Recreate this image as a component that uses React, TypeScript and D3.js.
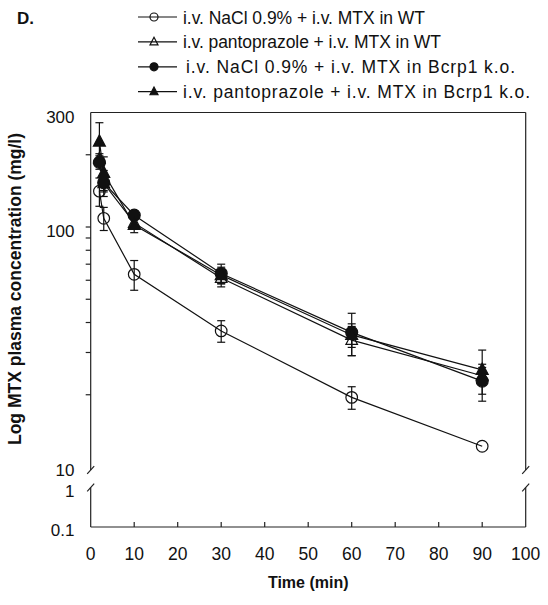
import React from "react";
import * as d3 from "d3";

const times = [2, 3, 10, 30, 60, 90];

const wtNaCl = [141, 108.7, 63.5, 36.9, 19.5, 12.2];
const wtNaClSD = [19, 12, 9, 3.8, 2.1, 0];
const wtPanto = [192, 152, 104, 61.3, 33.8, 24];
const wtPantoSD = [10, 10, 5, 5, 4.7, 2];
const koNaCl = [186, 153, 112, 64, 36.4, 22.8];
const koNaClSD = [12, 19, 5, 6, 7.3, 4];
const koPanto = [227, 168, 102, 63, 35.5, 25.4];
const koPantoSD = [45, 28, 7.3, 5, 4, 5.3];

const legendLabels = [
  "i.v. NaCl 0.9% + i.v. MTX in WT",
  "i.v. pantoprazole + i.v. MTX in WT",
  "i.v. NaCl 0.9% + i.v. MTX in Bcrp1 k.o.",
  "i.v. pantoprazole + i.v. MTX in Bcrp1 k.o.",
];

const xTicks = [0, 10, 20, 30, 40, 50, 60, 70, 80, 90, 100];
const yMinorTicks = [20, 30, 40, 50, 60, 70, 80, 90, 100, 200];
const yUpperLabels = [300, 100, 10];
const yLowerLabels = [1, 0.1];

type Series = { values: number[]; sd: number[]; symbol: "circle" | "triangle"; filled: boolean };
const series: Series[] = [
  { values: wtNaCl, sd: wtNaClSD, symbol: "circle", filled: false },
  { values: wtPanto, sd: wtPantoSD, symbol: "triangle", filled: false },
  { values: koNaCl, sd: koNaClSD, symbol: "circle", filled: true },
  { values: koPanto, sd: koPantoSD, symbol: "triangle", filled: true },
];

const FONT = "'Liberation Sans', Arial, Helvetica, sans-serif";

function Marker({ x, y, s, size }: { x: number; y: number; s: Series; size: number }) {
  const fill = s.filled ? "#111" : "none";
  if (s.symbol === "circle") {
    return <circle cx={x} cy={y} r={size} fill={fill} stroke="#111" strokeWidth={1.2} />;
  }
  const h = size * 1.9;
  const w = size * 1.0;
  const p = `M${x},${y - h * 0.6} L${x + w},${y + h * 0.4} L${x - w},${y + h * 0.4} Z`;
  return <path d={p} fill={fill} stroke="#111" strokeWidth={1.2} />;
}

export default function App() {
  const x = d3.scaleLinear().domain([0, 100]).range([90.7, 525.7]);
  const y = d3.scaleLog().domain([10, 300]).range([467, 112.5]);
  const yLow = d3.scaleLog().domain([0.1, 1]).range([527, 488]);
  const line = d3
    .line<number>()
    .x((_, i) => x(times[i]))
    .y((v) => y(v));

  const x0 = x(0);
  const x1 = x(100);
  const yTop = y(300);
  const yBottom = yLow(0.1);
  const brkUp = 470;
  const brkLow = 487.5;

  const legendStart = [183, 183, 186, 183];
  const legendEnd = [425, 441, 515, 530];

  const slash = (cx: number, cy: number, key: string) => (
    <line key={key} x1={cx - 3.5} y1={cy + 3.8} x2={cx + 3.5} y2={cy - 3.8} stroke="#222" strokeWidth={1.2} />
  );

  return (
    <svg width={548} height={605} style={{ display: "block", position: "absolute", left: 0, top: 0 }} fontFamily={FONT}>
      <rect width={548} height={605} fill="#fff" />
      {/* panel letter */}
      <text x={17} y={23.5} fontSize={17} fontWeight="bold" fill="#111">D.</text>

      {/* legend */}
      {series.map((s, i) => {
        const by = 23.5 + i * 24.9;
        const cy = by - 6.5;
        return (
          <g key={i}>
            <line x1={138} x2={177} y1={cy} y2={cy} stroke="#111" strokeWidth={1.2} />
            <Marker x={154} y={cy} s={s} size={4} />
            <text
              x={legendStart[i]}
              y={by}
              fontSize={17.5}
              fill="#111"
              textLength={legendEnd[i] - legendStart[i]}
              lengthAdjust="spacing"
            >
              {legendLabels[i]}
            </text>
          </g>
        );
      })}

      {/* frame */}
      <line x1={x0} x2={x1} y1={yTop} y2={yTop} stroke="#222" strokeWidth={1.2} />
      <line x1={x0} x2={x0} y1={yTop} y2={brkUp} stroke="#222" strokeWidth={1.2} />
      <line x1={x0} x2={x0} y1={brkLow} y2={yBottom} stroke="#222" strokeWidth={1.2} />
      <line x1={x1} x2={x1} y1={yTop} y2={brkUp} stroke="#222" strokeWidth={1.2} />
      <line x1={x1} x2={x1} y1={brkLow} y2={yBottom} stroke="#222" strokeWidth={1.2} />
      <line x1={x0} x2={x1} y1={yBottom} y2={yBottom} stroke="#222" strokeWidth={1.2} />
      {slash(x0, brkUp, "s1")}
      {slash(x0, brkLow, "s2")}
      {slash(x1, brkUp, "s3")}
      {slash(x1, brkLow, "s4")}

      {/* y ticks */}
      {yMinorTicks.map((t) => (
        <line key={t} x1={x0 - 5} x2={x0} y1={y(t)} y2={y(t)} stroke="#222" strokeWidth={1.2} />
      ))}
      {yUpperLabels.map((t) => (
        <text key={t} x={74.5} y={y(t) + (t === 10 ? 9 : 10)} fontSize={17} textAnchor="end" fill="#111">{t}</text>
      ))}
      {yLowerLabels.map((t) => (
        <text key={t} x={74.5} y={yLow(t) + (t === 1 ? 8.5 : 9)} fontSize={17} textAnchor="end" fill="#111">{t}</text>
      ))}

      {/* x ticks */}
      {xTicks.map((t) => (
        <g key={t}>
          {t > 0 && t < 100 && (
            <line x1={x(t)} x2={x(t)} y1={yBottom} y2={yBottom - 5} stroke="#222" strokeWidth={1.2} />
          )}
          <text x={x(t)} y={560} fontSize={17.5} textAnchor="middle" fill="#111">{t}</text>
        </g>
      ))}

      {/* axis titles */}
      <text x={(x0 + x1) / 2} y={588} fontSize={16} fontWeight="bold" textAnchor="middle" fill="#111">Time (min)</text>
      <text
        transform={`translate(20.7, 289) rotate(-90)`}
        fontSize={17.5}
        fontWeight="bold"
        textAnchor="middle"
        fill="#111"
      >
        Log MTX plasma concentration (mg/l)
      </text>

      {/* lines */}
      {series.map((s, i) => (
        <path key={i} d={line(s.values) || ""} fill="none" stroke="#111" strokeWidth={1.2} />
      ))}

      {/* error bars */}
      {series.map((s, i) =>
        s.values.map((v, j) => {
          const sd = s.sd[j];
          if (!sd) return null;
          const px = x(times[j]);
          const hi = y(v + sd);
          const lo = y(Math.max(v - sd, 10.5));
          return (
            <g key={`${i}-${j}`} stroke="#111" strokeWidth={1.2}>
              <line x1={px} x2={px} y1={hi} y2={lo} />
              <line x1={px - 4} x2={px + 4} y1={hi} y2={hi} />
              <line x1={px - 4} x2={px + 4} y1={lo} y2={lo} />
            </g>
          );
        })
      )}

      {/* markers */}
      {series.map((s, i) =>
        s.values.map((v, j) => (
          <Marker key={`${i}-${j}`} x={x(times[j])} y={y(v)} s={s} size={s.filled ? 6 : 5.8} />
        ))
      )}
    </svg>
  );
}
